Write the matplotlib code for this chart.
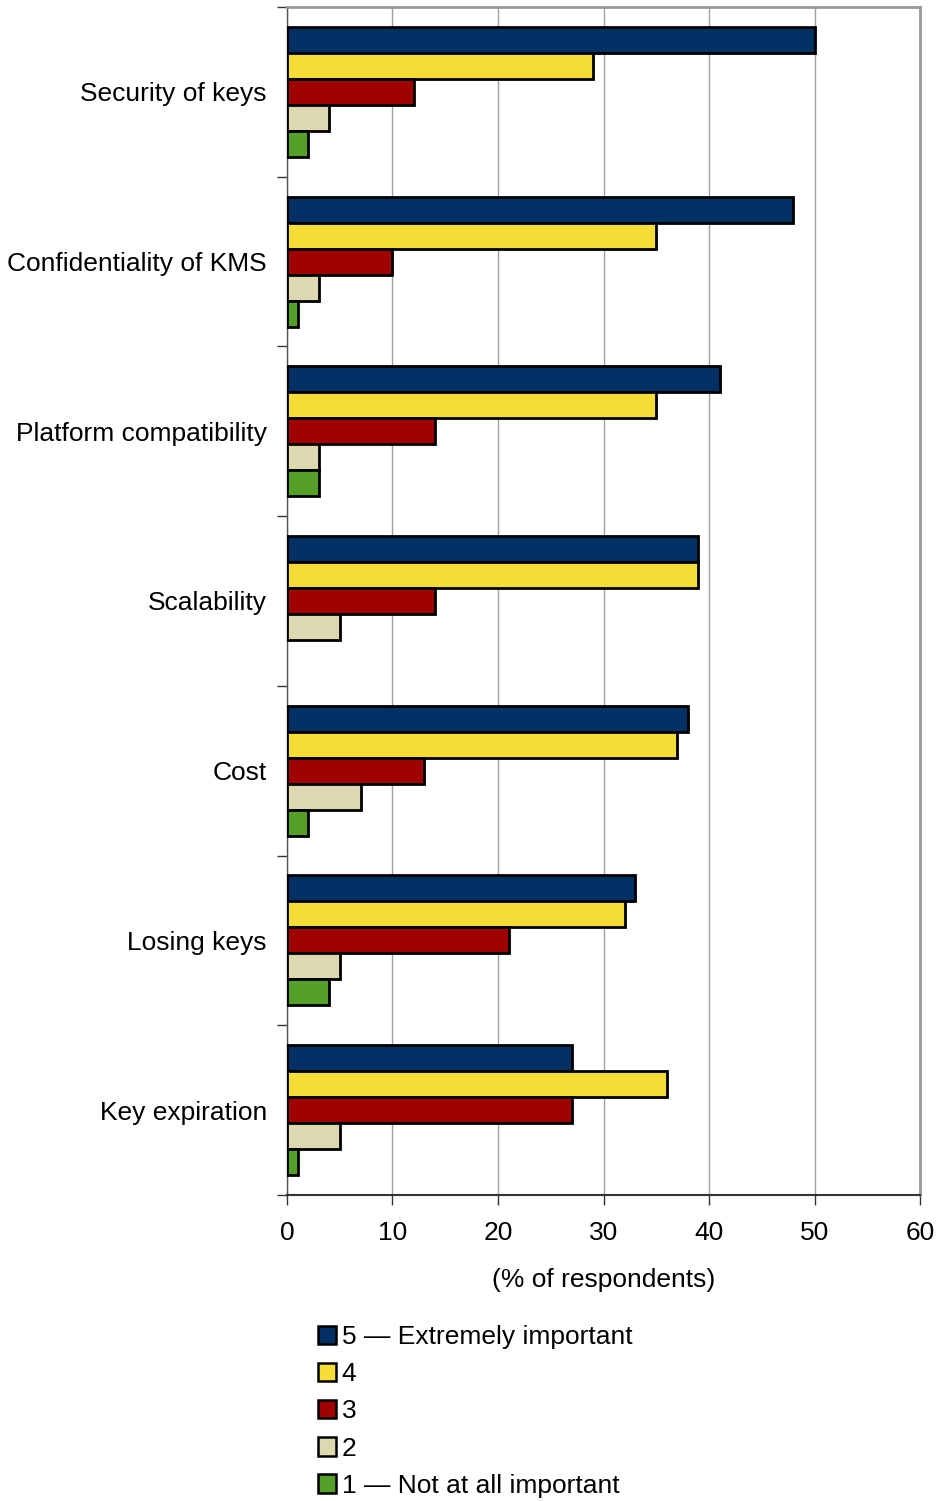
import matplotlib
matplotlib.use("Agg")
import matplotlib.pyplot as plt
from matplotlib.patches import Patch
import numpy as np

plt.rcParams['font.family'] = ['Liberation Sans', 'DejaVu Sans']

categories = ["Security of keys", "Confidentiality of KMS", "Platform compatibility",
              "Scalability", "Cost", "Losing keys", "Key expiration"]
series_labels = ["5 \u2014 Extremely important", "4", "3", "2", "1 \u2014 Not at all important"]
v5 = [50, 48, 41, 39, 38, 33, 27]
v4 = [29, 35, 35, 39, 37, 32, 36]
v3 = [12, 10, 14, 14, 13, 21, 27]
v2 = [4, 3, 3, 5, 7, 5, 5]
v1 = [2, 1, 3, 0, 2, 4, 1]
series = [v5, v4, v3, v2, v1]
colors = ["#003064", "#F5DC36", "#A00000", "#DED8B0", "#559E27"]
xticks = [0, 10, 20, 30, 40, 50, 60]
xlabel = "(% of respondents)"

W, H = 937, 1501
fig = plt.figure(figsize=(W/100, H/100), dpi=100)
ax = fig.add_axes([287/W, 1 - 1195/H, (920-287)/W, (1195-7)/H])

bh = 26/169.7
centers = np.arange(len(categories)) + 0.5
for j, (vals, c) in enumerate(zip(series, colors)):
    ys = centers + (j - 2) * bh
    for y, v in zip(ys, vals):
        if v > 0:
            ax.barh(y, v, height=bh, color=c, edgecolor='black', linewidth=2.0, zorder=3)

ax.set_xlim(0, 60)
ax.set_ylim(len(categories), 0)
ax.set_xticks(xticks)
ax.set_xticklabels([str(t) for t in xticks], fontsize=19)
ax.tick_params(axis='x', length=7, width=1, color='#333333', pad=12)
ax.set_yticks(np.arange(len(categories) + 1))
ax.set_yticklabels([])
ax.tick_params(axis='y', which='major', length=7, width=1, color='#333333')
ax.set_yticks(centers, minor=True)
ax.set_yticklabels(categories, minor=True, fontsize=19)
ax.tick_params(axis='y', which='minor', length=0, pad=14.5)
ax.grid(axis='x', color='#A0A0A0', linewidth=1, zorder=0)
ax.set_axisbelow(True)
for s in ['top', 'right']:
    ax.spines[s].set_color('#999999')
    ax.spines[s].set_linewidth(2)
ax.spines['left'].set_color('#555555')
ax.spines['left'].set_linewidth(1)
ax.spines['bottom'].set_color('#333333')
ax.spines['bottom'].set_linewidth(1.5)
ax.set_xlabel(xlabel, fontsize=19, labelpad=16)

handles = [Patch(facecolor=c, edgecolor='black', linewidth=1.8) for c in colors]
fig.legend(handles, series_labels, loc='upper left', bbox_to_anchor=(318/W, 1 - 1325/H),
           frameon=False, fontsize=19, handlelength=0.7, handleheight=0.7,
           handletextpad=0.2, labelspacing=0.5, borderpad=0, borderaxespad=0)

fig.savefig("out.png", dpi=100)
